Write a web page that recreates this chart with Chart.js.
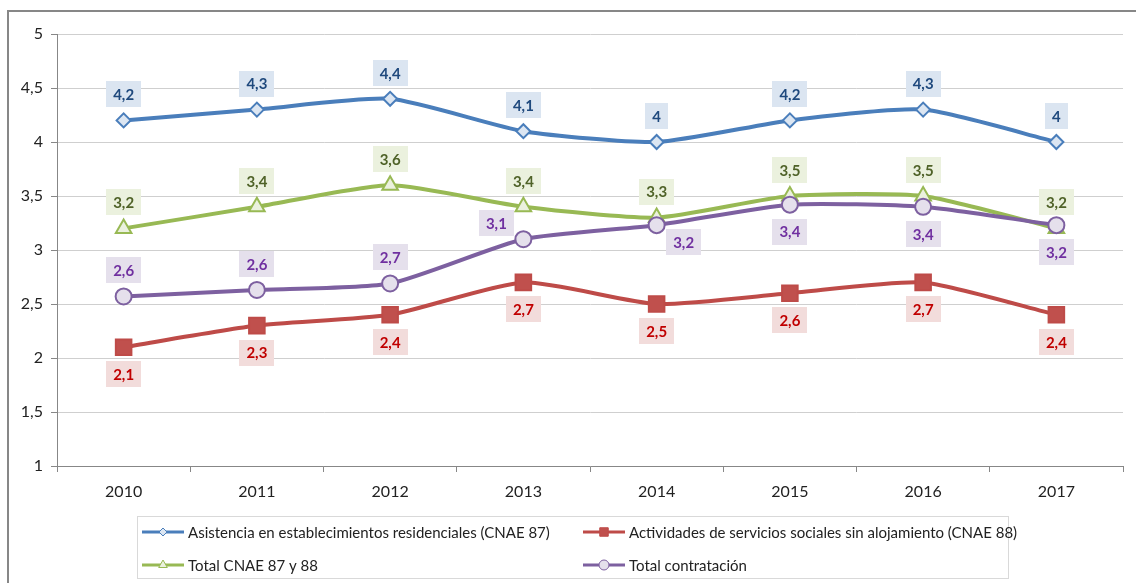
<!DOCTYPE html>
<html>
<head>
<meta charset="utf-8">
<script src="https://cdn.jsdelivr.net/npm/chart.js@4/dist/chart.umd.min.js"></script>
<style>
  html, body { margin: 0; padding: 0; background: #fff; }
  #wrap { width: 1136px; height: 583px; }
</style>
</head>
<body>
<div id="wrap"><canvas id="chart" width="1136" height="583"></canvas></div>
<script>
// Años y series
var years = ["2010", "2011", "2012", "2013", "2014", "2015", "2016", "2017"];
var asistencia = [4.2, 4.3, 4.4, 4.1, 4.0, 4.2, 4.3, 4.0];
var actividades = [2.1, 2.3, 2.4, 2.7, 2.5, 2.6, 2.7, 2.4];
var totalCnae = [3.2, 3.4, 3.6, 3.4, 3.3, 3.5, 3.5, 3.2];
var totalContratacion = [2.57, 2.63, 2.69, 3.1, 3.23, 3.42, 3.4, 3.23];
var yTicks = [1, 1.5, 2, 2.5, 3, 3.5, 4, 4.5, 5];

var FONT = 'Lato, "Liberation Sans", sans-serif';

// where each value label sits relative to its point
var placeAbove = ["up", "up", "up", "up", "up", "up", "up", "up"];
var placeBelow = ["down", "down", "down", "down", "down", "down", "down", "down"];
var placeContratacion = ["up", "up", "up", "left", "right", "down", "down", "down"];
var offsets = {
    up: [0, -26],
    down: [0, 27],
    left: [-27, -16],
    right: [27, 17]
};

function fmt(v) {
    return String(Number(v.toFixed(1))).replace(".", ",");
}

var series = [
    {
        label: "Asistencia en establecimientos residenciales (CNAE 87)",
        data: asistencia, color: "#4a7ebb", fill: "#dce6f2",
        style: "rectRot", radius: 7, legendRadius: 4,
        boxColor: "#dbe5f1", textColor: "#1f497d", place: placeAbove, order: 3
    },
    {
        label: "Actividades de servicios sociales sin alojamiento (CNAE 88)",
        data: actividades, color: "#be4b48", fill: "#c0504d",
        style: "rect", radius: 11, legendRadius: 6,
        boxColor: "#f2dcdb", textColor: "#c00000", place: placeBelow, order: 2
    },
    {
        label: "Total CNAE 87 y 88",
        data: totalCnae, color: "#98b954", fill: "#ebf1de",
        style: "triangle", radius: 9, legendRadius: 5,
        boxColor: "#ebf1de", textColor: "#4f6228", place: placeAbove, order: 1
    },
    {
        label: "Total contratación",
        data: totalContratacion, color: "#7d60a0", fill: "#e5e0ec",
        style: "circle", radius: 8, legendRadius: 5,
        boxColor: "#e5e0ec", textColor: "#7030a0", place: placeContratacion, order: 0
    }
];

// Marco del gráfico
var framePlugin = {
    id: "frame",
    beforeDraw: function (chart) {
        var ctx = chart.ctx;
        ctx.save();
        ctx.strokeStyle = "#878787";
        ctx.lineWidth = 2;
        ctx.beginPath();
        ctx.moveTo(8, 583);
        ctx.lineTo(8, 11);
        ctx.lineTo(1136, 11);
        ctx.stroke();
        ctx.restore();
    }
};

// Etiquetas de valor con fondo
var labelPlugin = {
    id: "valueLabels",
    afterDatasetsDraw: function (chart) {
        var ctx = chart.ctx;
        ctx.save();
        ctx.font = "bold 15px " + FONT;
        ctx.textAlign = "center";
        ctx.textBaseline = "middle";
        series.forEach(function (s, di) {
            var meta = chart.getDatasetMeta(di);
            meta.data.forEach(function (pt, i) {
                var off = offsets[s.place[i]];
                var cx = pt.x + off[0];
                var cy = pt.y + off[1];
                var text = fmt(s.data[i]);
                var w = ctx.measureText(text).width + 14;
                var h = 26;
                ctx.fillStyle = s.boxColor;
                ctx.fillRect(Math.round(cx - w / 2), Math.round(cy - h / 2), Math.round(w), h);
                ctx.fillStyle = s.textColor;
                ctx.fillText(text, cx, cy + 1);
            });
        });
        ctx.restore();
    }
};

// Leyenda en dos columnas dentro de un recuadro
var legendPlugin = {
    id: "boxLegend",
    afterDraw: function (chart) {
        var ctx = chart.ctx;
        ctx.save();
        ctx.strokeStyle = "#d9d9d9";
        ctx.lineWidth = 1;
        ctx.strokeRect(137.5, 516.5, 871, 62);
        var cols = [142, 583];
        var rows = [532, 565];
        ctx.font = "15px " + FONT;
        ctx.textBaseline = "middle";
        ctx.textAlign = "left";
        series.forEach(function (s, i) {
            var x = cols[i % 2];
            var y = rows[Math.floor(i / 2)];
            ctx.strokeStyle = s.color;
            ctx.lineWidth = 3;
            ctx.beginPath();
            ctx.moveTo(x, y);
            ctx.lineTo(x + 42, y);
            ctx.stroke();
            ctx.fillStyle = s.fill;
            ctx.strokeStyle = s.color;
            ctx.lineWidth = 1;
            Chart.helpers.drawPoint(ctx, {
                pointStyle: s.style, radius: s.legendRadius, borderWidth: 1, rotation: 0
            }, x + 21, y);
            ctx.fillStyle = "#222";
            ctx.fillText(s.label, x + 46, y + 1);
        });
        ctx.restore();
    }
};

var ctx = document.getElementById("chart").getContext("2d");
var myChart = new Chart(ctx, {
    type: "line",
    data: {
        labels: years,
        datasets: series.map(function (s) {
            return {
                label: s.label,
                data: s.data,
                order: s.order,
                borderColor: s.color,
                borderWidth: 4,
                tension: 0.2,
                pointStyle: s.style,
                pointRadius: s.radius,
                pointBackgroundColor: s.fill,
                pointBorderColor: s.color,
                pointBorderWidth: 2,
                fill: false
            };
        })
    },
    options: {
        responsive: false,
        animation: false,
        layout: { padding: { left: 0, top: 34, right: 10, bottom: 0 } },
        plugins: {
            legend: { display: false },
            tooltip: { enabled: false }
        },
        scales: {
            x: {
                offset: true,
                afterFit: function (scale) { scale.height = 117; },
                grid: {
                    offset: true,
                    drawOnChartArea: false,
                    drawTicks: true,
                    tickLength: 6,
                    tickColor: "#878787"
                },
                border: { color: "#878787", width: 1 },
                ticks: {
                    color: "#222",
                    padding: 10,
                    font: { family: FONT, size: 16 }
                }
            },
            y: {
                min: yTicks[0],
                max: yTicks[yTicks.length - 1],
                afterFit: function (scale) { scale.width = 57; },
                afterBuildTicks: function (scale) {
                    scale.ticks = yTicks.map(function (v) { return { value: v }; });
                },
                grid: {
                    color: "#cfcfcf",
                    borderDash: [3, 2],
                    tickLength: 6,
                    tickColor: "#878787",
                    tickBorderDash: []
                },
                border: { color: "#878787", width: 1 },
                ticks: {
                    color: "#222",
                    padding: 8,
                    font: { family: FONT, size: 16 },
                    callback: function (v) { return String(v).replace(".", ","); }
                }
            }
        }
    },
    plugins: [framePlugin, labelPlugin, legendPlugin]
});
</script>
</body>
</html>
